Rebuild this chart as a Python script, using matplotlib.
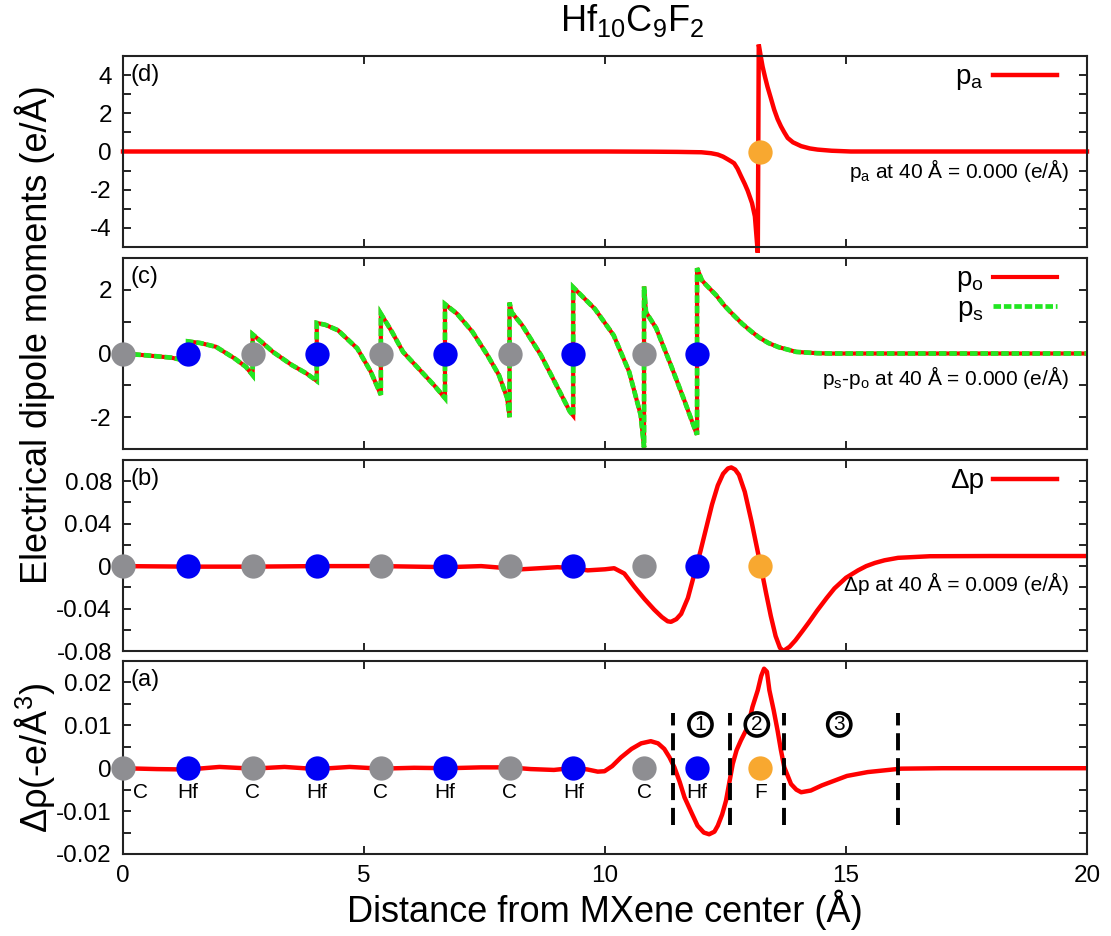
import numpy as np
import matplotlib
matplotlib.use('Agg')
import matplotlib.pyplot as plt
from matplotlib.ticker import MultipleLocator, FuncFormatter

plt.rcParams['font.family'] = ['Liberation Sans', 'DejaVu Sans']
plt.rcParams['mathtext.fontset'] = 'custom'
plt.rcParams['mathtext.rm'] = 'Liberation Sans'
plt.rcParams['mathtext.it'] = 'Liberation Sans'
plt.rcParams['mathtext.default'] = 'regular'
plt.rcParams['axes.unicode_minus'] = False

# atoms along z (Angstrom)
c_pos = [0.0, 2.69, 5.35, 8.02, 10.81]
hf_pos = [1.35, 4.02, 6.68, 9.34, 11.91]
f_pos = [13.22]
atom_lbl_x = [0.36, 1.35, 2.69, 4.02, 5.35, 6.68, 8.02, 9.34, 10.81, 11.91, 13.22]
atom_lbl = ['C', 'Hf', 'C', 'Hf', 'C', 'Hf', 'C', 'Hf', 'C', 'Hf', 'F']

# (d) p_a
pa_x = [0, 9, 10, 11, 11.5, 12.0, 12.2, 12.34, 12.45, 12.54, 12.62, 12.68, 12.75, 12.82, 12.9,
        12.96, 13.05, 13.11, 13.17,
        13.19, 13.23, 13.27, 13.32, 13.37, 13.44, 13.51, 13.58, 13.65, 13.72, 13.79, 13.9,
        14.07, 14.25, 14.41, 14.7, 15.1, 20]
pa_y = [0, 0, 0, -0.01, -0.02, -0.04, -0.09, -0.16, -0.27, -0.4, -0.52, -0.62, -0.9, -1.28, -1.7,
        -2.05, -2.7, -3.4, -5.3,
        5.6, 5.0, 4.44, 3.9, 3.4, 2.8, 2.19, 1.7, 1.32, 1.0, 0.71, 0.48,
        0.28, 0.16, 0.1, 0.04, 0, 0]

# (c) p_o / p_s
po_x = [0, 0.5, 1.0, 1.35,
        1.35, 1.6, 1.93, 2.32, 2.55, 2.69,
        2.69, 2.9, 3.11, 3.5, 3.8, 4.02,
        4.02, 4.2, 4.46, 4.86, 5.14, 5.35,
        5.35, 5.58, 5.81, 6.13, 6.45, 6.68,
        6.68, 6.93, 7.25, 7.56, 7.8, 7.97, 8.02,
        8.02, 8.06, 8.28, 8.67, 8.99, 9.27, 9.34,
        9.34, 9.79, 10.18, 10.5, 10.74, 10.81,
        10.81, 10.85, 11.06, 11.36, 11.65, 11.87, 11.91,
        11.91, 12.01, 12.1, 12.3, 12.48, 12.67, 12.85, 13.03, 13.2, 13.39, 13.6, 13.97,
        14.4, 14.7, 20]
po_y = [0, -0.06, -0.13, -0.24,
        0.38, 0.33, 0.21, -0.16, -0.42, -0.68,
        0.6, 0.33, 0.05, -0.36, -0.62, -0.86,
        0.96, 0.9, 0.73, 0.16, -0.57, -1.3,
        1.25, 0.68, 0.05, -0.47, -0.99, -1.4,
        1.55, 1.25, 0.68, -0.05, -0.68, -1.4, -2.0,
        1.6, 1.3, 0.89, -0.05, -0.99, -1.82, -1.95,
        2.08, 1.4, 0.57, -0.57, -1.93, -2.95,
        2.1, 1.3, 0.8, -0.34, -1.49, -2.4, -2.55,
        2.68, 2.3, 2.15, 1.84, 1.5, 1.2, 0.93, 0.7, 0.5, 0.33, 0.2, 0.05,
        0.01, 0.0, 0.0]
ps_y = po_y

# (b) delta p
dp_x = [0, 1.35, 2.69, 4.02, 5.35, 6.74, 7.43, 8.26, 9.02, 9.34, 9.64, 10.0, 10.19, 10.4,
        10.61, 10.82, 11.02, 11.18, 11.3, 11.37, 11.48, 11.58, 11.72, 11.85, 11.98, 12.1,
        12.22, 12.34, 12.45, 12.55, 12.62, 12.7, 12.78, 12.9, 13.04, 13.14, 13.24, 13.34,
        13.44, 13.54, 13.63, 13.7, 13.83, 13.95, 14.1, 14.23, 14.4, 14.6, 14.76, 15.0, 15.25,
        15.42, 15.6, 15.8, 16.08, 16.74, 18, 20]
dp_y = [0, -0.0005, -0.0005, 0, 0, -0.001, 0, -0.003, -0.001, -0.002, -0.004, -0.003,
        -0.002, -0.007, -0.0195, -0.031, -0.041, -0.048, -0.052, -0.0525, -0.05, -0.045,
        -0.03, -0.008, 0.014, 0.036, 0.058, 0.076, 0.087, 0.092, 0.093, 0.091, 0.086, 0.07,
        0.042, 0.02, -0.002, -0.025, -0.047, -0.066, -0.077, -0.08, -0.076, -0.07, -0.061,
        -0.053, -0.042, -0.03, -0.021, -0.011, -0.004, 0.0, 0.003, 0.0055, 0.0078, 0.0093,
        0.0095, 0.0095]

# (a) delta rho
dr_x = [0, 0.7, 1.35, 2.0, 2.69, 3.35, 4.02, 4.7, 5.35, 6.04, 6.74, 7.43, 8.02, 8.46, 8.94,
        9.36, 9.64, 9.85, 9.99, 10.15, 10.33, 10.55, 10.75, 10.95, 11.1, 11.23, 11.34, 11.44,
        11.55, 11.65, 11.8, 11.92, 12.05, 12.16, 12.27, 12.34, 12.43, 12.51, 12.58, 12.65,
        12.73, 12.82, 12.96, 13.06, 13.17, 13.24, 13.3, 13.36, 13.41, 13.5, 13.58, 13.65,
        13.72, 13.86, 13.97, 14.07, 14.27, 14.5, 14.76, 15.02, 15.45, 16.14, 17, 20]
dr_y = [0, -0.0002, -0.0003, 0.0003, -0.0001, 0.0003, -0.0002, 0.0003, -0.0001, 0.0001, 0.0,
        0.0002, 0.0002, -0.0002, -0.0004, 0.0001, -0.0003, -0.0008, -0.0007, 0.0005, 0.0025,
        0.0045, 0.0058, 0.0063, 0.0058, 0.0045, 0.0025, 0.0002, -0.0032, -0.0068, -0.0105,
        -0.0134, -0.015, -0.0154, -0.0148, -0.0134, -0.0108, -0.0076, -0.0033, 0.001, 0.0042,
        0.0065, 0.0096, 0.0143, 0.0182, 0.0215, 0.0232, 0.0225, 0.0182, 0.0135, 0.0088,
        0.0042, 0.0002, -0.0037, -0.005, -0.0056, -0.0052, -0.004, -0.0029, -0.0018, -0.0009,
        -0.0001, 0, 0]

region_x = [11.41, 12.6, 13.72, 16.08]
region_lbl_x = [11.98, 13.15, 14.86]
region_lbl = ['1', '2', '3']

RED = '#ff0000'
GREEN = '#22e622'
GREY = '#8e8e92'
BLUE = '#0000f5'
ORANGE = '#f8a830'
MS = 17.5

fig = plt.figure(figsize=(11.11, 9.36), dpi=100)
L, R = 123 / 1111, 1087 / 1111
tops = [56, 258, 460, 661]
bots = [247, 449, 651, 854]
axes = []
for t, b in zip(tops, bots):
    axes.append(fig.add_axes([L, 1 - b / 936, R - L, (b - t) / 936]))
axd, axc, axb, axa = axes

fmt = FuncFormatter(lambda v, p: '%g' % round(v, 6))
for ax in axes:
    ax.set_xlim(0, 20)
    ax.xaxis.set_major_locator(MultipleLocator(5))
    ax.tick_params(which='both', direction='in', top=True, right=True, length=6, width=1.2,
                   labelsize=17.5, pad=8)
    for s in ax.spines.values():
        s.set_linewidth(1.5)
        s.set_color('#222222')
    ax.yaxis.set_major_formatter(fmt)
    if ax is not axa:
        ax.tick_params(labelbottom=False)

def atoms(ax, with_f=True):
    ax.plot(c_pos, [0] * len(c_pos), 'o', color=GREY, ms=MS, mec='none', clip_on=False, zorder=5)
    ax.plot(hf_pos, [0] * len(hf_pos), 'o', color=BLUE, ms=MS, mec='none', clip_on=False, zorder=5)
    if with_f:
        ax.plot(f_pos, [0], 'o', color=ORANGE, ms=MS, mec='none', clip_on=False, zorder=5)

# (d)
axd.plot(pa_x, pa_y, color=RED, lw=3.2, label='p$_a$', clip_on=False, solid_joinstyle='miter')
axd.plot(f_pos, [0], 'o', color=ORANGE, ms=MS, mec='none', zorder=5)
axd.set_ylim(-5, 5)
axd.yaxis.set_major_locator(MultipleLocator(2))
axd.yaxis.set_minor_locator(MultipleLocator(1))
axd.text(0.981, 0.40, 'p$_a$ at 40 Å = 0.000 (e/Å)', transform=axd.transAxes, ha='right',
         va='center', fontsize=15)

# (c)
axc.plot(po_x, po_y, color=RED, lw=3.0, label='p$_o$', solid_joinstyle='miter')
axc.plot(po_x, ps_y, color=GREEN, lw=3.4, dashes=(1.6, 0.6), label='p$_s$',
         solid_joinstyle='miter', dash_joinstyle='miter')
atoms(axc, with_f=False)
axc.set_ylim(-3, 3)
axc.yaxis.set_major_locator(MultipleLocator(2))
axc.yaxis.set_minor_locator(MultipleLocator(1))
axc.text(0.981, 0.375, 'p$_s$-p$_o$ at 40 Å = 0.000 (e/Å)', transform=axc.transAxes, ha='right',
         va='center', fontsize=15)

# (b)
axb.plot(dp_x, dp_y, color=RED, lw=3.2, label='Δp')
atoms(axb)
axb.set_ylim(-0.08, 0.1)
axb.yaxis.set_major_locator(MultipleLocator(0.04))
axb.yaxis.set_minor_locator(MultipleLocator(0.02))
axb.text(0.981, 0.35, 'Δp at 40 Å = 0.009 (e/Å)', transform=axb.transAxes, ha='right',
         va='center', fontsize=15)

# (a)
axa.plot(dr_x, dr_y, color=RED, lw=3.2)
atoms(axa)
axa.vlines(region_x, -0.0132, 0.0128, colors='black', lw=2.8, linestyles=(0, (4.4, 2.0)), zorder=4)
for xx, t in zip(region_lbl_x, region_lbl):
    axa.text(xx, 0.0102, t, ha='center', va='center', fontsize=15,
             bbox=dict(boxstyle='circle,pad=0.1', fc='white', ec='black', lw=2.6))
for xx, t in zip(atom_lbl_x, atom_lbl):
    axa.text(xx, -0.0056, t, ha='center', va='center', fontsize=15)
axa.set_ylim(-0.02, 0.025)
axa.yaxis.set_major_locator(MultipleLocator(0.01))
axa.yaxis.set_minor_locator(MultipleLocator(0.005))
axa.set_xlabel('Distance from MXene center (Å)', fontsize=26, labelpad=2)

for ax in (axd, axc, axb):
    ax.legend(loc='upper right', bbox_to_anchor=(0.975, 0.985), frameon=False, markerfirst=False,
              fontsize=20, handlelength=2.3, handletextpad=0.35, borderaxespad=0,
              borderpad=0.2, labelspacing=0.05)

for ax, lab in zip(axes, ['(d)', '(c)', '(b)', '(a)']):
    ax.text(0.008, 0.9, lab, transform=ax.transAxes, ha='left', va='center', fontsize=17)

fig.text(0.031, 0.642, 'Electrical dipole moments (e/Å)', rotation=90, ha='center', va='center',
         fontsize=26)
fig.text(0.031, 0.1907, 'Δρ(-e/Å$^3$)', rotation=90, ha='center', va='center', fontsize=26)
fig.text(0.569, 0.978, 'Hf$_{10}$C$_9$F$_2$', ha='center', va='center', fontsize=26)

fig.savefig('out.png', dpi=100)
